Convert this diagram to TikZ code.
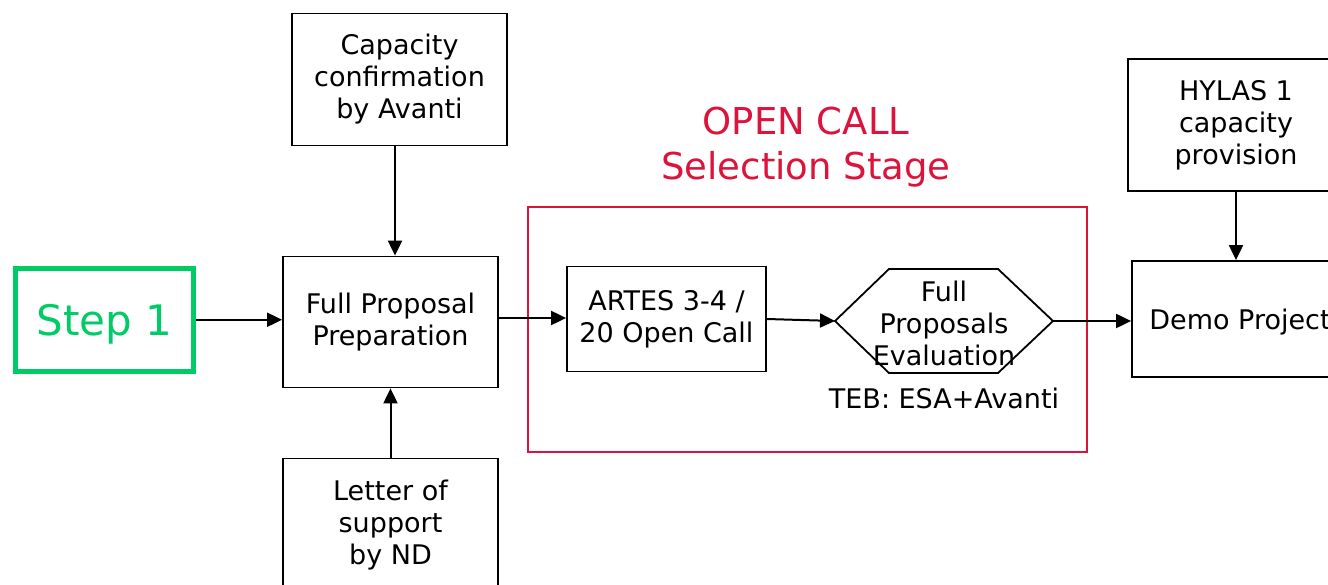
\documentclass[tikz,border=0pt]{standalone}
\usepackage{fontspec}
\setmainfont{DejaVu Sans}
\usetikzlibrary{arrows.meta}
\definecolor{stepgreen}{RGB}{0,204,102}
\definecolor{callred}{RGB}{220,20,60}

\begin{document}
\begin{tikzpicture}[x=1pt, y=-1pt,
  box/.style={draw, line width=1.8pt, align=center, inner sep=0pt,
    minimum width=215pt, font=\fontsize{27}{32}\selectfont,
    execute at begin node=\rule{0pt}{27pt}},
  link/.style={line width=2pt, -{Triangle[length=15pt,width=14pt]}}]
\useasboundingbox (0,0) rectangle (1328,585);

\node[draw=stepgreen, line width=5pt, text=stepgreen, inner sep=0pt,
  minimum width=178pt, minimum height=102.5pt, text height=30.5pt, text depth=0pt,
  font=\fontsize{42}{48}\selectfont] (step) at (104.5,319.75) {Step 1};
\node[box, minimum height=131pt] (prep) at (390.5,322) {Full Proposal\\Preparation};
\node[box, minimum height=132pt] (cap) at (399.5,79.5) {Capacity\\confirmation\\by Avanti};
\node[box, minimum height=134pt] (letter) at (390.5,525.5) {Letter of\\support\\by ND};

% open call stage
\draw[callred, line width=1.5pt] (528,207) rectangle (1087,452);
\node[text=callred, align=center, font=\fontsize{37}{45}\selectfont]
  (title) at (806,147.5) {OPEN CALL\\Selection Stage};
\node[box, minimum width=199pt, minimum height=105pt] (artes) at (666.5,319) {ARTES 3-4 /\\20 Open Call};
\coordinate (evl) at (835,321);
\coordinate (evr) at (1053,321);
\draw[line width=1.8pt] (evl) -- (889,269) -- (998,269) -- (evr)
  -- (998,373) -- (889,373) -- cycle;
\node[align=center, font=\fontsize{27}{32}\selectfont] (eval) at (944,323) {Full\\Proposals\\Evaluation};
\node[font=\fontsize{27}{32}\selectfont] (teb) at (944,398) {TEB: ESA+Avanti};

\node[box, minimum width=216pt, minimum height=132pt] (hylas) at (1236,125) {HYLAS 1\\capacity\\provision};
\node[box, minimum width=216pt, minimum height=116pt] (demo) at (1240,319) {Demo Project};

\draw[link] (step.east) -- (step.east -| prep.west);
\draw[link] (cap.south -| 395,0) -- (prep.north -| 395,0);
\draw[link] (letter) -- (prep);
\draw[link] (prep.east |- 0,318) -- (artes.west |- 0,318);
\draw[link] (artes.east) -- (evl);
\draw[link] (evr) -- (evr -| demo.west);
\draw[link] (hylas) -- (hylas |- demo.north);
\end{tikzpicture}
\end{document}
